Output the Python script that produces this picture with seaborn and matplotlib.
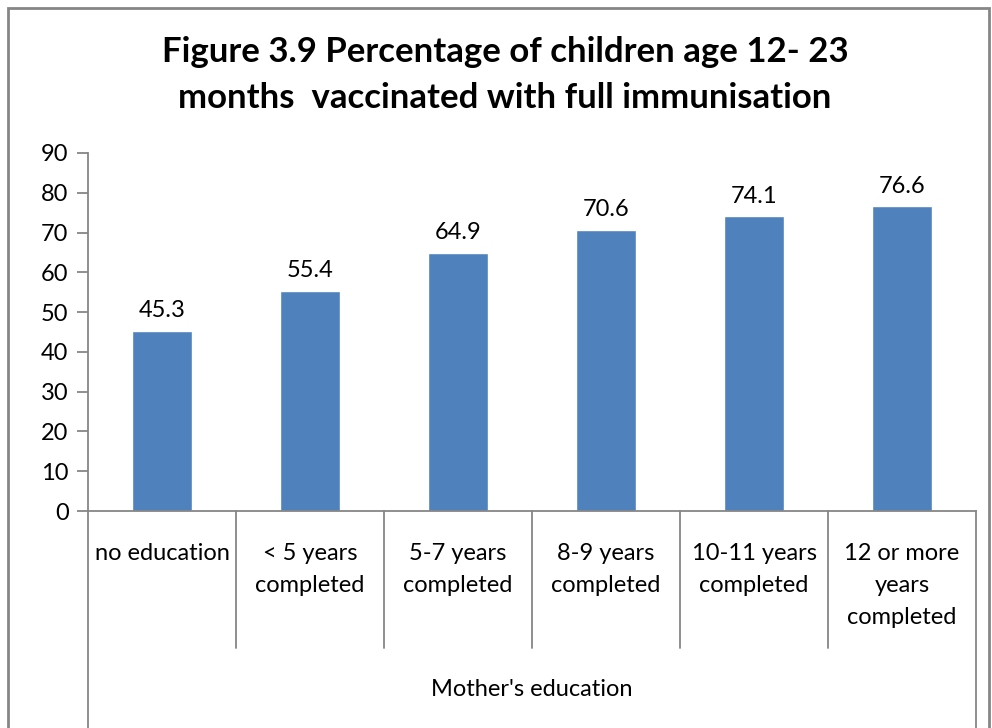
import matplotlib
matplotlib.use('Agg')
import matplotlib.pyplot as plt
import matplotlib.transforms as mtransforms
from matplotlib.patches import Rectangle
import seaborn as sns
import pandas as pd

# data
categories = ['no education', '< 5 years\ncompleted', '5-7 years\ncompleted',
              '8-9 years\ncompleted', '10-11 years\ncompleted', '12 or more\nyears\ncompleted']
values = [45.3, 55.4, 64.9, 70.6, 74.1, 76.6]
y_ticks = [0, 10, 20, 30, 40, 50, 60, 70, 80, 90]

df = pd.DataFrame({'education': categories, 'pct': values})

sns.set_theme(style='white')
plt.rcParams['font.family'] = ['Lato', 'DejaVu Sans']
plt.rcParams['text.color'] = 'black'
plt.rcParams['ytick.labelcolor'] = 'black'

grey = '#868686'
fig = plt.figure(figsize=(9.92, 7.28), dpi=100)
ax = fig.add_axes([88/992, 1 - 511/728, (976-88)/992, (511-153)/728])

sns.barplot(data=df, x='education', y='pct', color='#4F81BD', width=0.4,
            saturation=1, ax=ax)

ax.set_ylim(0, 90)
ax.set_xlim(-0.5, len(categories) - 0.5)
ax.set_yticks(y_ticks)
ax.tick_params(axis='y', labelsize=17, length=8, width=1.3, color=grey,
               labelcolor='black', direction='out', pad=6, left=True)
ax.tick_params(axis='x', bottom=False, labelbottom=False)
ax.set_xlabel('')
ax.set_ylabel('')
for s in ['top', 'right']:
    ax.spines[s].set_visible(False)
for s in ['left', 'bottom']:
    ax.spines[s].set_color(grey)
    ax.spines[s].set_linewidth(1.3)

# data labels
for i, v in enumerate(values):
    ax.annotate(f'{v:.1f}', (i, v), xytext=(0, 7), textcoords='offset points',
                ha='center', va='bottom', fontsize=17, color='black')

# category labels and separators below the axis
trans = mtransforms.blended_transform_factory(ax.transData, ax.transAxes)
px = 1 / (511 - 153)
for i, lab in enumerate(categories):
    ax.text(i, -(552 - 511 - 9) * px, lab, transform=trans, ha='center', va='top',
            fontsize=17, linespacing=1.65, color='black')
n = len(categories)
for b in range(n + 1):
    xb = b - 0.5
    low = -(730 - 511) * px if b in (0, n) else -(648 - 511) * px
    ax.plot([xb, xb], [0, low], transform=trans, color=grey, lw=1.3, clip_on=False)

ax.text((n - 1) / 2, -(690 - 511) * px, "Mother's education", transform=trans,
        ha='center', va='center', fontsize=17, color='black')

fig.text(0.509, 1 - 75/728,
         'Figure 3.9 Percentage of children age 12- 23\nmonths  vaccinated with full immunisation',
         ha='center', va='center', fontsize=25, fontweight='bold', linespacing=1.5,
         color='black')

fig.patches.append(Rectangle((8/992, -0.02), (989-8)/992, 1 - 8/728 + 0.02,
                             transform=fig.transFigure, fill=False,
                             edgecolor=grey, lw=2))

fig.savefig('out.png', dpi=100)
